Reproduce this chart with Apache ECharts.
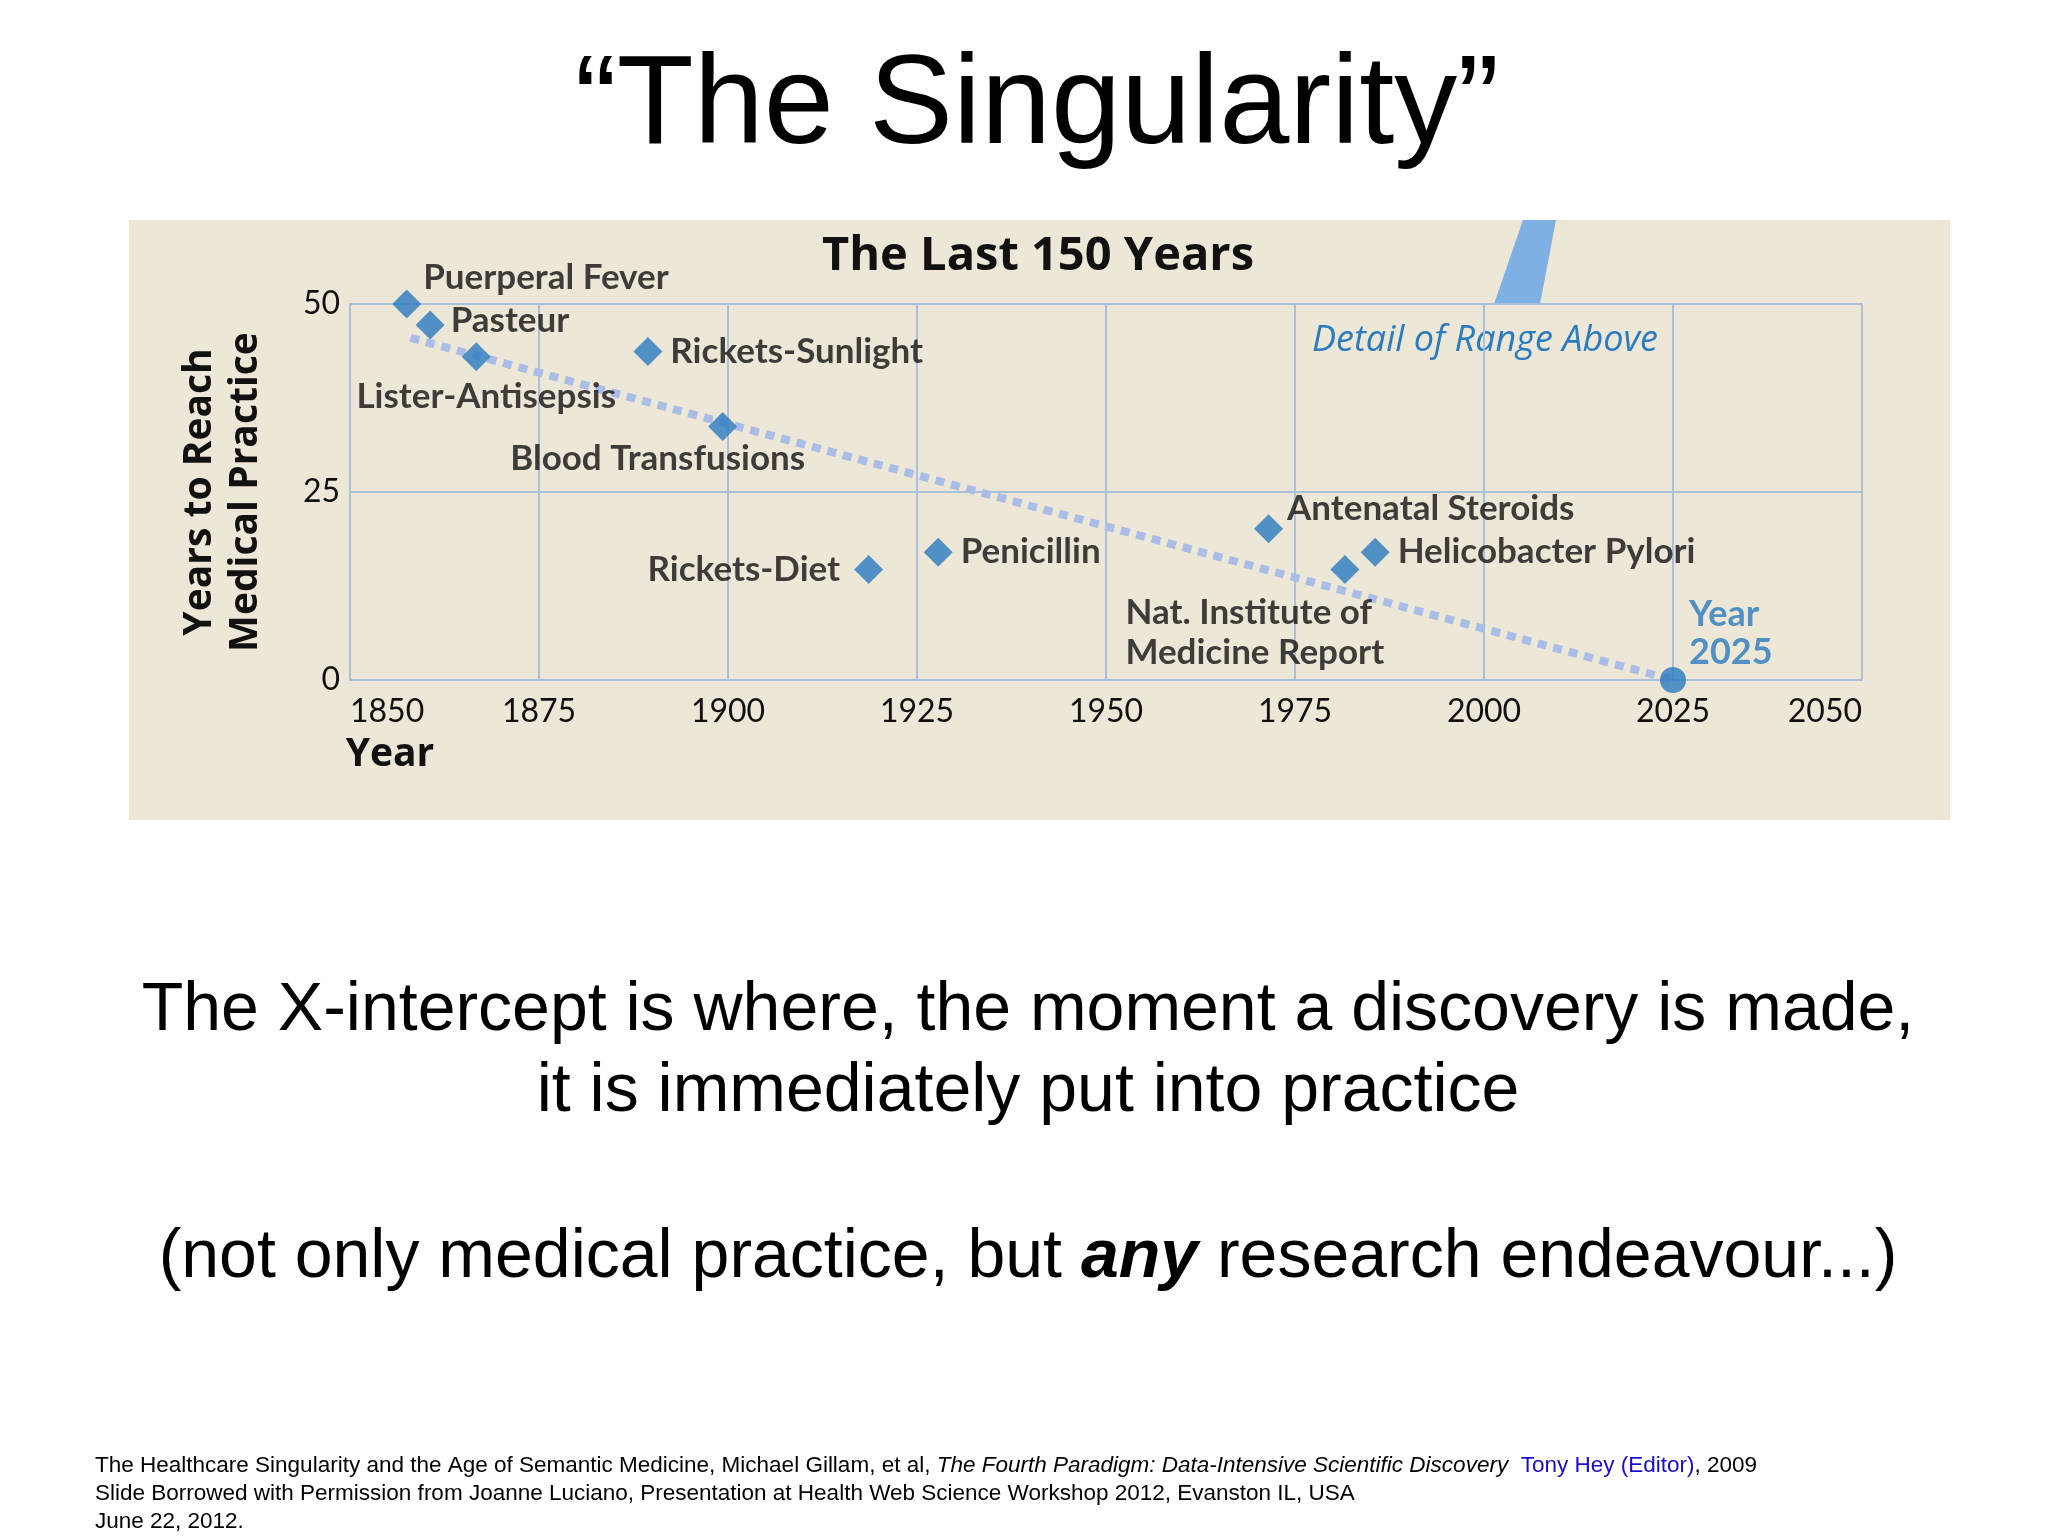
<!DOCTYPE html>
<html><head><meta charset="utf-8">
<script src="https://cdn.jsdelivr.net/npm/echarts@6/dist/echarts.min.js"></script>
<style>html,body{margin:0;padding:0;background:#fff}#c{width:2048px;height:1536px}</style>
</head><body><div id="c"></div>
<script>
const names = ['Puerperal Fever','Pasteur','Lister-Antisepsis','Rickets-Sunlight','Blood Transfusions','Rickets-Diet','Penicillin','Antenatal Steroids','Nat. Institute of\nMedicine Report','Helicobacter Pylori'];
const years = [1857.5,1860.6,1866.7,1889.4,1899.3,1918.6,1927.8,1971.5,1981.6,1985.6];
const yearsToPractice = [50,47.2,43,43.7,33.7,14.7,17,20.1,14.7,17];
const trendYears = [1858,2025];
const trendValues = [45.5,0];
const targetYear = [2025];
const targetValue = [0];
const xTicks = [1850,1875,1900,1925,1950,1975,2000,2025,2050];
const yTicks = [0,25,50];

const place = [
 {position:'right',offset:[-6,-26]},
 {position:'right',offset:[-2,-4]},
 {position:'bottom',offset:[10,-2]},
 {position:'right',offset:[0,0]},
 {position:'bottom',offset:[-65,-10]},
 {position:'left',offset:[-6,0]},
 {position:'right',offset:[0,0]},
 {position:'right',offset:[-4,-20]},
 {position:[-205,38],offset:[0,0]},
 {position:'right',offset:[0,0]}
];
const F = 'Lato, "Open Sans", sans-serif';
const FO = '"Open Sans", "Noto Sans", sans-serif';
const A = '"Liberation Sans", Arial, sans-serif';
const chart = echarts.init(document.getElementById('c'));
chart.setOption({
 backgroundColor:'#fff',
 animation:false,
 graphic:[
  {type:'rect',shape:{x:129,y:220,width:1821,height:600},style:{fill:'#ece7d6'},z:-10},
  {type:'polygon',shape:{points:[[1523,220],[1556,220],[1540,304],[1494,304]]},style:{fill:'#7fb0e3'},z:-5},
  {type:'text',x:1037,y:108,style:{text:'\u201CThe Singularity\u201D',font:'126px '+A,fill:'#000',align:'center',verticalAlign:'middle'}},
  {type:'text',x:1038,y:257,style:{text:'The Last 150 Years',font:'bold 47px '+FO,fill:'#111',align:'center',verticalAlign:'middle'}},
  {type:'text',x:1485,y:341,style:{text:'Detail of Range Above',font:'italic 36px '+FO,fill:'#2b7bbf',align:'center',verticalAlign:'middle'}},
  {type:'text',x:223,y:492,rotation:Math.PI/2,style:{text:'Years to Reach\nMedical Practice',font:'bold 39px '+FO,fill:'#111',align:'center',verticalAlign:'middle',lineHeight:46}},
  {type:'text',x:390,y:755,style:{text:'Year',font:'bold 39px '+FO,fill:'#111',align:'center',verticalAlign:'middle'}},
  {type:'text',x:1028,y:1011,style:{text:'The X-intercept is where, the moment a discovery is made,',font:'68px '+A,fill:'#000',align:'center',verticalAlign:'middle'}},
  {type:'text',x:1028,y:1092,style:{text:'it is immediately put into practice',font:'68px '+A,fill:'#000',align:'center',verticalAlign:'middle'}},
  {type:'text',x:1028,y:1258,style:{text:'{n|(not only medical practice, but }{b|any}{n| research endeavour...)}',align:'center',verticalAlign:'middle',
    rich:{n:{font:'68px '+A,fill:'#000'},b:{font:'italic bold 68px '+A,fill:'#000'}}}},
  {type:'text',x:95,y:1452,style:{text:'{n|The Healthcare Singularity and the Age of Semantic Medicine, Michael Gillam, et al, }{i|The Fourth Paradigm: Data-Intensive Scientific Discovery}{n|  }{l|Tony Hey (Editor)}{u|, 2009}\n{n|Slide Borrowed with Permission from Joanne Luciano, Presentation at Health Web Science Workshop 2012, Evanston IL, USA}\n{n|June 22, 2012.}',
    rich:{n:{font:'22.5px '+A,fill:'#000',lineHeight:28},i:{font:'italic 22.5px '+A,fill:'#000',lineHeight:28},l:{font:'22.5px '+A,fill:'#1a0dcc',lineHeight:28,textDecoration:'underline'},u:{font:'22.5px '+A,fill:'#000',lineHeight:28}}}}
 ],
 grid:{left:350,right:186,top:304,bottom:856,show:true,borderColor:'#a9c1d9',borderWidth:2,backgroundColor:'transparent'},
 xAxis:{type:'value',min:1850,max:2050,interval:25,
  axisLine:{show:false},axisTick:{show:false},
  splitLine:{lineStyle:{color:'#a9c1d9',width:2}},
  axisLabel:{color:'#111',fontSize:32,fontFamily:F,margin:16,alignMinLabel:'left',alignMaxLabel:'right',
   formatter:v=>xTicks.includes(v)?String(v):''}},
 yAxis:{type:'value',min:0,max:50,interval:25,
  axisLine:{show:false},axisTick:{show:false},
  splitLine:{lineStyle:{color:'#a9c1d9',width:2}},
  axisLabel:{color:'#111',fontSize:32,fontFamily:F,margin:10,formatter:v=>yTicks.includes(v)?String(v):''}},
 series:[
  {type:'line',data:trendYears.map((y,i)=>[y,trendValues[i]]),symbol:'none',z:1,
   lineStyle:{color:'#a9bde6',width:8,type:[9,7]}},
  {type:'scatter',symbol:'diamond',symbolSize:29,z:3,itemStyle:{color:'#2b7bbf'},
   data:years.map((y,i)=>({value:[y,yearsToPractice[i]],name:names[i],
     label:{show:true,formatter:'{b}',position:place[i].position,offset:place[i].offset,distance:8,
       color:'#111',fontSize:35,fontWeight:'bold',fontFamily:F,lineHeight:40}}))},
  {type:'scatter',symbol:'circle',symbolSize:26,z:3,itemStyle:{color:'#2b7bbf'},
   data:targetYear.map((y,i)=>({value:[y,targetValue[i]],
    label:{show:true,formatter:'Year\n2025',position:[29,-72],color:'#2b7bbf',fontSize:36,fontWeight:'bold',fontFamily:F,lineHeight:38}}))}
 ]
});
</script></body></html>
